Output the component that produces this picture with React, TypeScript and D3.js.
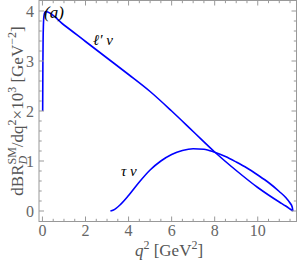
import React from "react";
import * as d3 from "d3";

const lightQ2 = [0.011, 0.02, 0.03, 0.045, 0.06, 0.09, 0.14, 1, 2, 3, 4, 5, 6, 7, 8, 9, 10, 10.5, 11, 11.3, 11.5, 11.63];
const lightVal = [2.0, 2.9, 3.4, 3.72, 3.86, 3.95, 3.99, 3.72, 3.39, 3.06, 2.73, 2.39, 2.0, 1.59, 1.18, 0.81, 0.47, 0.32, 0.18, 0.1, 0.04, 0];

const tauQ2 = [3.157, 3.3, 3.6, 4.0, 4.5, 5.0, 5.5, 6.0, 6.5, 7.0, 7.5, 8.0, 8.5, 9.0, 9.5, 10.0, 10.5, 11.0, 11.3, 11.5, 11.6, 11.63];
const tauVal = [0, 0.02, 0.12, 0.31, 0.58, 0.82, 1.0, 1.13, 1.21, 1.245, 1.235, 1.175, 1.09, 0.98, 0.86, 0.72, 0.57, 0.39, 0.27, 0.16, 0.08, 0];

const xMajor = [0, 2, 4, 6, 8, 10];
const yMajor = [0, 1, 2, 3, 4];

const SERIF = "'Liberation Serif', 'Times New Roman', serif";

export default function App() {
  const W = 300, H = 268;
  const L = 39, R = 296.5, T = 0.5, B = 221.5;
  const x = d3.scaleLinear().domain([-0.16, 11.8]).range([L, R]);
  const y = d3.scaleLinear().domain([-0.21, 4.21]).range([B, T]);

  const xMinor = d3.range(0, 11.8, 0.5).filter((v) => Math.abs(v / 2 - Math.round(v / 2)) > 1e-6);
  const yMinor = d3.range(0, 4.2, 0.2).filter((v) => Math.abs(v - Math.round(v)) > 1e-6);

  const line = d3
    .line<[number, number]>()
    .x((d) => x(d[0]))
    .y((d) => y(d[1]))
    .curve(d3.curveMonotoneX);

  const lightPts = lightQ2.map((q, i) => [q, lightVal[i]] as [number, number]);
  const tauPts = tauQ2.map((q, i) => [q, tauVal[i]] as [number, number]);

  const frame = "#999";
  const major = 5, minor = 2.7;

  return (
    <svg width={W} height={H} style={{ position: "absolute", left: 0, top: 0 }} fontFamily={SERIF}>
      <rect x={0} y={0} width={W} height={H} fill="#fff" />
      <path d={line(lightPts) || ""} fill="none" stroke="#0000ff" strokeWidth={1.6} />
      <path d={line(tauPts) || ""} fill="none" stroke="#0000ff" strokeWidth={1.6} />
      <rect x={L} y={T} width={R - L} height={B - T} fill="none" stroke={frame} strokeWidth={1} />
      {xMajor.map((v) => (
        <g key={"xm" + v}>
          <line x1={x(v)} x2={x(v)} y1={B} y2={B - major} stroke={frame} />
          <line x1={x(v)} x2={x(v)} y1={T} y2={T + major} stroke={frame} />
          <text x={x(v)} y={236} textAnchor="middle" fontSize={16} fill="#666">
            {v}
          </text>
        </g>
      ))}
      {xMinor.map((v) => (
        <g key={"xn" + v}>
          <line x1={x(v)} x2={x(v)} y1={B} y2={B - minor} stroke={frame} />
          <line x1={x(v)} x2={x(v)} y1={T} y2={T + minor} stroke={frame} />
        </g>
      ))}
      {yMajor.map((v) => (
        <g key={"ym" + v}>
          <line x1={L} x2={L + major} y1={y(v)} y2={y(v)} stroke={frame} />
          <line x1={R} x2={R - major} y1={y(v)} y2={y(v)} stroke={frame} />
          <text x={34} y={y(v) + 5.5} textAnchor="end" fontSize={16} fill="#666">
            {v}
          </text>
        </g>
      ))}
      {yMinor.map((v) => (
        <g key={"yn" + v}>
          <line x1={L} x2={L + minor} y1={y(v)} y2={y(v)} stroke={frame} />
          <line x1={R} x2={R - minor} y1={y(v)} y2={y(v)} stroke={frame} />
        </g>
      ))}
      <text x={169} y={256} textAnchor="middle" fontSize={17} fill="#555">
        <tspan fontStyle="italic">q</tspan>
        <tspan fontSize={12} dy={-7}>2</tspan>
        <tspan dy={7}> [GeV</tspan>
        <tspan fontSize={12} dy={-7}>2</tspan>
        <tspan dy={7}>]</tspan>
      </text>
      <text transform="translate(23,111) rotate(-90)" textAnchor="middle" fontSize={17} fill="#555">
        <tspan>dBR</tspan>
        <tspan fontStyle="italic" fontSize={12} dy={4}>D</tspan>
        <tspan fontSize={12} dx={-8.7} dy={-11}>SM</tspan>
        <tspan dy={7}>/dq</tspan>
        <tspan fontSize={12} dy={-7}>2</tspan>
        <tspan dy={7}>×10</tspan>
        <tspan fontSize={12} dy={-7}>3</tspan>
        <tspan dy={7}> [GeV</tspan>
        <tspan fontSize={12} dy={-7}>−2</tspan>
        <tspan dy={7}>]</tspan>
      </text>
      <text x={44} y={18} fontSize={17} fontStyle="italic" fill="#000">
        (a)
      </text>
      <text x={93} y={45} fontSize={15} fontStyle="italic" fill="#000">
        ℓ′ ν
      </text>
      <text x={121} y={176} fontSize={15} fontStyle="italic" fill="#000">
        τ ν
      </text>
    </svg>
  );
}
